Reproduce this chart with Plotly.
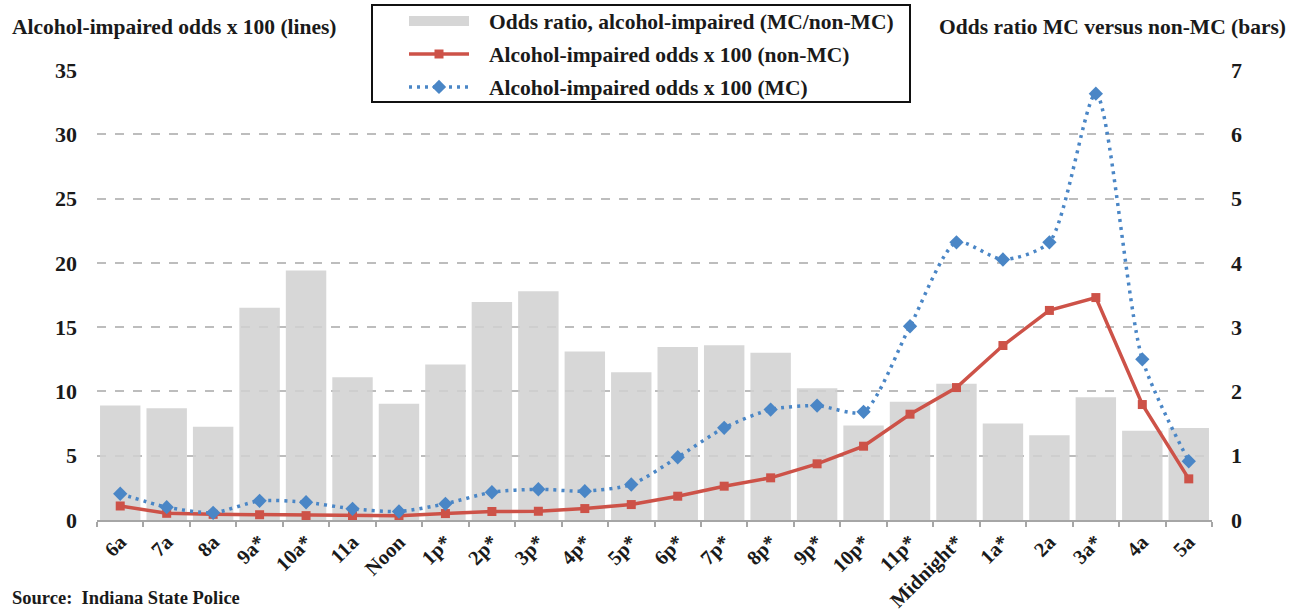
import plotly.graph_objects as go

hours = ["6a", "7a", "8a", "9a*", "10a*", "11a", "Noon", "1p*", "2p*", "3p*", "4p*", "5p*",
         "6p*", "7p*", "8p*", "9p*", "10p*", "11p*", "Midnight*", "1a*", "2a", "3a*", "4a", "5a"]

# Odds ratio MC / non-MC (right axis, bars)
odds_ratio = [1.78, 1.74, 1.45, 3.30, 3.88, 2.22, 1.81, 2.42, 3.39, 3.56, 2.62, 2.30,
              2.69, 2.72, 2.60, 2.05, 1.47, 1.84, 2.12, 1.50, 1.32, 1.91, 1.39, 1.43]

# Alcohol-impaired odds x 100 (left axis, lines)
odds_non_mc = [1.09, 0.52, 0.44, 0.41, 0.34, 0.34, 0.34, 0.50, 0.66, 0.68, 0.89, 1.20,
               1.85, 2.63, 3.28, 4.37, 5.74, 8.23, 10.3, 13.57, 16.3, 17.3, 8.98, 3.2]
odds_mc = [2.04, 1.00, 0.56, 1.49, 1.38, 0.87, 0.66, 1.26, 2.16, 2.39, 2.24, 2.76,
           4.88, 7.17, 8.59, 8.90, 8.41, 15.07, 21.6, 20.26, 21.6, 33.16, 12.5, 4.57]

FONT = "Liberation Serif"
INK = "#1a1a1a"
RED = "#cd5248"
BLUE = "#4a86c6"
BAR = "#d6d6d6"
PAD = "\u2002\u2009"  # gap between legend symbol and label

fig = go.Figure()

# bars sit on the base axis (right side) so the lines overlay them
fig.add_trace(go.Bar(
    x=hours, y=odds_ratio, yaxis="y",
    name="Odds ratio, alcohol-impaired (MC/non-MC)",
    marker=dict(color="rgba(209,209,209,0.86)", line=dict(width=0)),
    showlegend=False,
))

# legend swatch for the bars: a wide flat band
fig.add_trace(go.Scatter(
    x=[None], y=[None], yaxis="y", mode="lines",
    name=PAD + "Odds ratio, alcohol-impaired (MC/non-MC)",
    line=dict(color=BAR, width=12),
    legendgroup="a", hoverinfo="skip",
))

fig.add_trace(go.Scatter(
    x=hours, y=odds_non_mc, yaxis="y2", mode="lines+markers",
    name=PAD + "Alcohol-impaired odds x 100 (non-MC)",
    line=dict(color=RED, width=3.5),
    marker=dict(symbol="square", size=9, color=RED),
    legendgroup="b",
))

fig.add_trace(go.Scatter(
    x=hours, y=odds_mc, yaxis="y2", mode="lines+markers",
    name=PAD + "Alcohol-impaired odds x 100 (MC)",
    line=dict(color=BLUE, width=3.5, dash="3px,5px", shape="spline", smoothing=0.7),
    marker=dict(symbol="diamond", size=11, color=BLUE),
    legendgroup="c",
))

L, R, T, B = 97, 90, 70, 92
W, H = 1302, 612
ph = H - T - B
pw = W - L - R


def px_x(x):
    return (x - L) / pw


def px_y(y):
    return 1 - (y - T) / ph


TICKFONT = dict(family=FONT, size=22, color=INK, weight="bold")
XTICKFONT = dict(family=FONT, size=20.5, color=INK, weight="bold")
TEXTFONT = dict(family=FONT, size=21.5, color=INK, weight="bold")

fig.update_layout(
    width=W, height=H,
    margin=dict(l=L, r=R, t=T, b=B, autoexpand=False),
    paper_bgcolor="white", plot_bgcolor="white",
    font=dict(family=FONT, size=18, color=INK, weight="bold"),
    bargap=0.13,
    showlegend=True,
    legend=dict(
        x=px_x(374), y=px_y(0.5), xanchor="left", yanchor="top",
        borderwidth=0, bgcolor="rgba(0,0,0,0)",
        font=TEXTFONT,
        traceorder="grouped", tracegroupgap=2, itemwidth=60, indentation=30,
    ),
    # legend frame
    shapes=[
        dict(type="rect", xref="paper", yref="paper", layer="above",
             x0=px_x(372), x1=px_x(910), y0=px_y(102), y1=px_y(5),
             line=dict(color="#111111", width=2), fillcolor="white"),
    ],
    xaxis=dict(
        type="category", tickangle=-45, automargin=False,
        showline=True, linecolor="#a6a6a6", linewidth=2,
        ticks="outside", ticklen=5, tickcolor="#a6a6a6", tickwidth=2,
        tickson="boundaries", showgrid=False,
        tickfont=XTICKFONT,
        range=[-0.5, len(hours) - 0.5],
    ),
    yaxis=dict(
        range=[0, 7], dtick=1, side="right", automargin=False,
        showgrid=True, gridcolor="#bdbdbd", griddash="dash", gridwidth=1.5,
        zeroline=False, showline=False, ticks="",
        ticklabelstandoff=18,
        tickfont=TICKFONT,
    ),
    yaxis2=dict(
        range=[0, 35], dtick=5, side="left", overlaying="y", automargin=False,
        showgrid=False, zeroline=False, showline=False, ticks="",
        ticklabelstandoff=19,
        tickfont=TICKFONT,
    ),
    annotations=[
        dict(text="Alcohol-impaired odds x 100 (lines)", xref="paper", yref="paper",
             x=px_x(10), y=px_y(27), xanchor="left", yanchor="middle",
             showarrow=False, font=TEXTFONT),
        dict(text="Odds ratio MC versus non-MC (bars)", xref="paper", yref="paper",
             x=px_x(1288), y=px_y(27), xanchor="right", yanchor="middle",
             showarrow=False, font=TEXTFONT),
        dict(text="Source:\u00a0 Indiana State Police", xref="paper", yref="paper",
             x=px_x(10), y=px_y(598), xanchor="left", yanchor="middle",
             showarrow=False, font=dict(family=FONT, size=18.5, color=INK, weight="bold")),
    ],
)

fig.write_html("out.html")
